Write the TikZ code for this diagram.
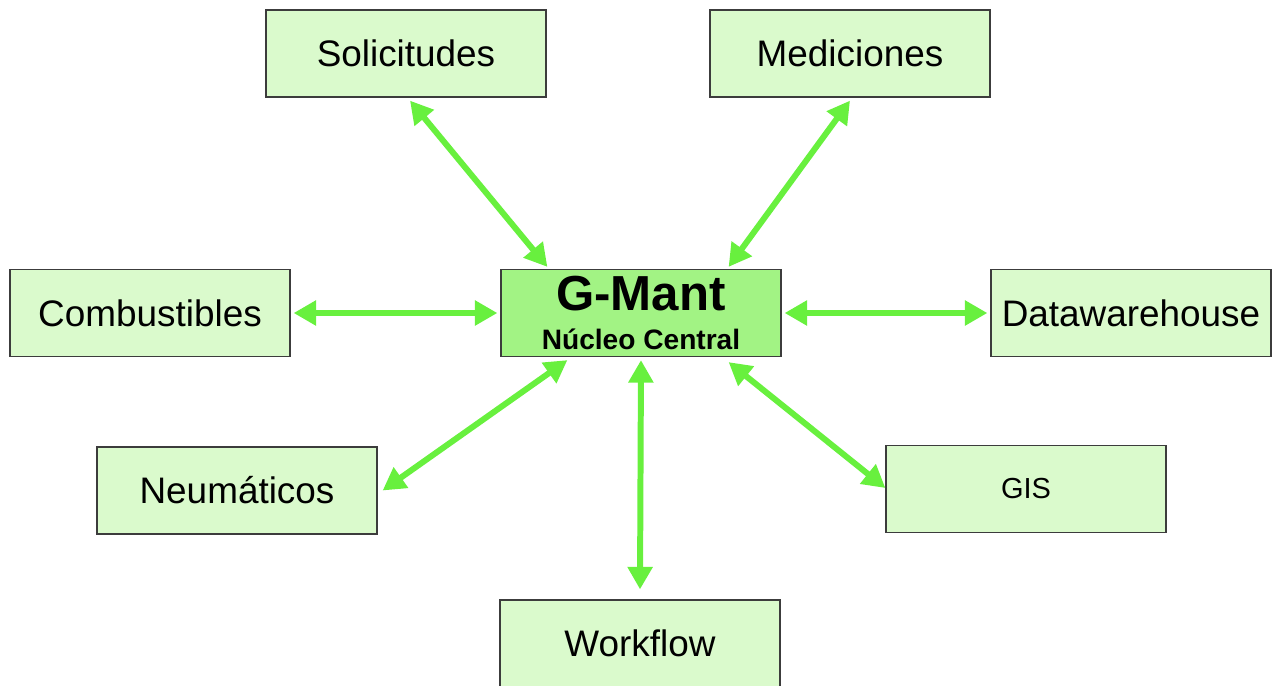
\documentclass[tikz,border=0pt]{standalone}
\usepackage{fontspec}
\setmainfont{Liberation Sans}
\usetikzlibrary{arrows.meta}

\definecolor{boxfill}{RGB}{218,250,204}
\definecolor{corefill}{RGB}{162,243,132}
\definecolor{linkgreen}{RGB}{104,240,62}
\definecolor{boxline}{RGB}{60,60,60}

\tikzset{
  modbox/.style={draw=boxline, line width=0.7pt, fill=boxfill, minimum width=5.6cm, minimum height=1.74cm, inner sep=0pt, font=\fontsize{21}{24}\selectfont},
  corebox/.style={modbox, fill=corefill, align=center, font=\bfseries},
  link/.style={linkgreen, line width=3.4pt, {Triangle[length=0.45cm,width=0.48cm]}-{Triangle[length=0.45cm,width=0.48cm]}}
}

\begin{document}
\begin{tikzpicture}
\useasboundingbox (0,0) rectangle (25.48,-13.7);

\node[corebox] (gmant) at (12.82,-6.26) {{\fontsize{28}{30}\selectfont G-Mant}\\[9pt]{\fontsize{16}{18}\selectfont Núcleo Central}};

\node[modbox] (solic) at (8.12,-1.07) {Solicitudes};
\node[modbox] (medic) at (17.0,-1.07) {Mediciones};
\node[modbox] (combu) at (3.0,-6.26) {Combustibles};
\node[modbox] (dataw) at (22.62,-6.26) {Datawarehouse};
\node[modbox] (neuma) at (4.74,-9.81) {Neumáticos};
\node[modbox, font=\fontsize{16.5}{18}\selectfont] (gis) at (20.52,-9.78) {GIS};
\node[modbox] (workf) at (12.8,-12.87) {Workflow};

% enlaces con el nucleo
\draw[link] ([xshift=0.08cm,yshift=-0.06cm]solic.south) -- ([xshift=0.94cm,yshift=0.04cm]gmant.north west);
\draw[link] ([yshift=-0.06cm]medic.south) -- ([xshift=-1.06cm,yshift=0.04cm]gmant.north east);
\draw[link] ([xshift=0.06cm]combu.east) -- ([xshift=-0.06cm]gmant.west);
\draw[link] ([xshift=0.06cm]gmant.east) -- ([xshift=-0.06cm]dataw.west);
\draw[link] ([xshift=1.34cm,yshift=-0.06cm]gmant.south west) -- ([xshift=0.1cm]neuma.east);
\draw[link] ([xshift=-1.06cm,yshift=-0.1cm]gmant.south east) -- ([yshift=0.02cm]gis.west);
\draw[link] ([yshift=-0.06cm]gmant.south) -- ([yshift=0.2cm]workf.north);

\end{tikzpicture}
\end{document}
